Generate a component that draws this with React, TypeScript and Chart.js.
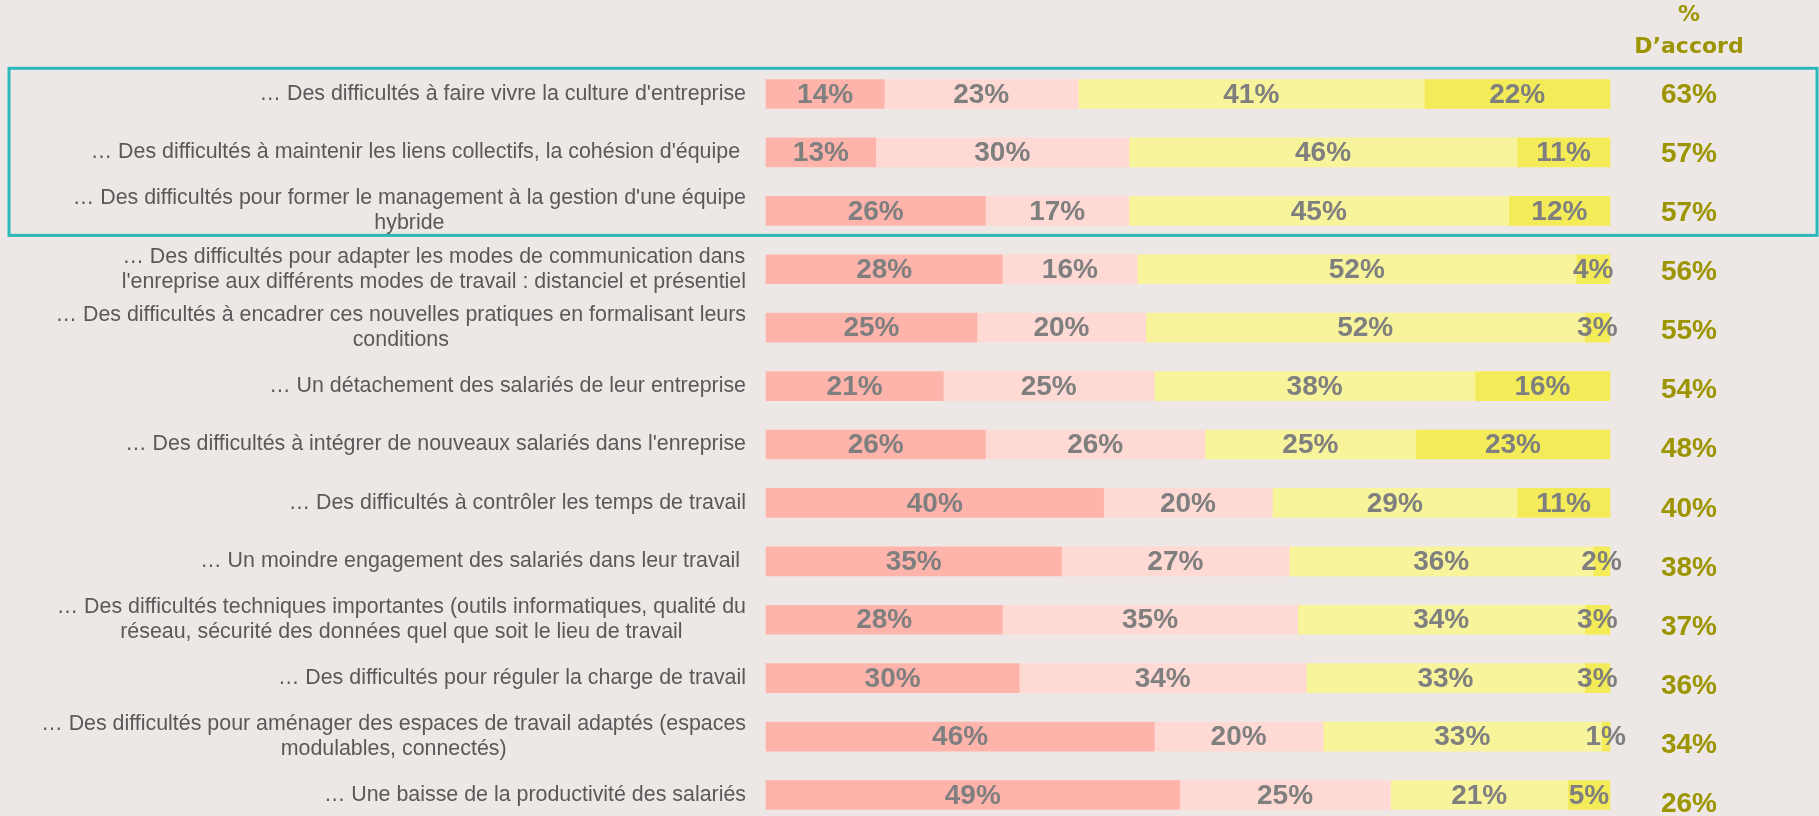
import React, { useEffect, useRef } from "react";
import { Chart, registerables } from "chart.js";

Chart.register(...registerables);

const categories: (string | string[])[] = [
  "… Des difficultés à faire vivre la culture d'entreprise",
  "… Des difficultés à maintenir les liens collectifs, la cohésion d'équipe ",
  ["… Des difficultés pour former le management à la gestion d'une équipe", "hybride"],
  ["… Des difficultés pour adapter les modes de communication dans", "l'enreprise aux différents modes de travail : distanciel et présentiel"],
  ["… Des difficultés à encadrer ces nouvelles pratiques en formalisant leurs", "conditions"],
  "… Un détachement des salariés de leur entreprise",
  "… Des difficultés à intégrer de nouveaux salariés dans l'enreprise",
  "… Des difficultés à contrôler les temps de travail",
  "… Un moindre engagement des salariés dans leur travail ",
  ["… Des difficultés techniques importantes (outils informatiques, qualité du", "réseau, sécurité des données quel que soit le lieu de travail"],
  "… Des difficultés pour réguler la charge de travail",
  ["… Des difficultés pour aménager des espaces de travail adaptés (espaces", "modulables, connectés)"],
  "… Une baisse de la productivité des salariés",
];

const pasDuTout = [14, 13, 26, 28, 25, 21, 26, 40, 35, 28, 30, 46, 49];
const plutotPas = [23, 30, 17, 16, 20, 25, 26, 20, 27, 35, 34, 20, 25];
const plutot = [41, 46, 45, 52, 52, 38, 25, 29, 36, 34, 33, 33, 21];
const toutAFait = [22, 11, 12, 4, 3, 16, 23, 11, 2, 3, 3, 1, 5];
const accord = [63, 57, 57, 56, 55, 54, 48, 40, 38, 37, 36, 34, 26];

const headerLines = ["%", "D\u2019accord"];

const BG = "#EDE8E5";
const LABEL_FONT = "Liberation Sans, Arial, sans-serif";

export default function App() {
  const ref = useRef<HTMLCanvasElement | null>(null);

  useEffect(() => {
    document.body.style.margin = "0";
    document.body.style.background = BG;
    const canvas = ref.current;
    if (!canvas) return;

    const labelsPlugin = {
      id: "customLabels",
      afterDatasetsDraw(chart: any) {
        const ctx = chart.ctx;
        const y = chart.scales.y;
        const area = chart.chartArea;
        ctx.save();

        // teal highlight box around first three rows
        const top = y.getPixelForValue(-0.44);
        const bottom = y.getPixelForValue(2.42);
        ctx.strokeStyle = "#2DB7B9";
        ctx.lineWidth = 3;
        ctx.strokeRect(9, top, 1817 - 9, bottom - top);

        // category labels: block right-aligned, lines centered
        ctx.font = `21.4px ${LABEL_FONT}`;
        ctx.fillStyle = "#595959";
        ctx.textBaseline = "middle";
        ctx.textAlign = "center";
        const right = area.left - 20;
        const lineH = 25;
        categories.forEach((lab, i) => {
          const lines = Array.isArray(lab) ? lab : [lab];
          const w = Math.max(...lines.map((l) => ctx.measureText(l).width));
          const cx = right - w / 2;
          const cy = y.getPixelForValue(i);
          lines.forEach((l, k) => {
            ctx.fillText(l, cx, cy + (k - (lines.length - 1) / 2) * lineH);
          });
        });

        // values in segments
        ctx.font = `bold 28px ${LABEL_FONT}`;
        ctx.fillStyle = "#7F7F7F";
        chart.data.datasets.forEach((ds: any, di: number) => {
          const meta = chart.getDatasetMeta(di);
          meta.data.forEach((bar: any, i: number) => {
            const cx = (bar.x + bar.base) / 2;
            ctx.fillText(ds.data[i] + "%", cx, bar.y + 1);
          });
        });

        // % d'accord column
        const colX = area.right + 79;
        ctx.fillStyle = "#9C9400";
        ctx.font = `bold 28px ${LABEL_FONT}`;
        accord.forEach((v, i) => {
          ctx.fillText(v + "%", colX, y.getPixelForValue(i) + 1 + i * 0.7);
        });

        ctx.font = `bold 22px "DejaVu Sans", sans-serif`;
        headerLines.forEach((t, k) => {
          ctx.fillText(t, colX, 15 + k * 32);
        });
        ctx.restore();
      },
    };

    const chart = new Chart(canvas, {
      type: "bar",
      data: {
        labels: categories.map((c) => (Array.isArray(c) ? c.join(" ") : c)),
        datasets: [
          { label: "Pas du tout d'accord", data: pasDuTout, backgroundColor: "#FFB4AB" },
          { label: "Plutôt pas d'accord", data: plutotPas, backgroundColor: "#FFDAD5" },
          { label: "Plutôt d'accord", data: plutot, backgroundColor: "#F8F49C" },
          { label: "Tout à fait d'accord", data: toutAFait, backgroundColor: "#F3EB58" },
        ],
      },
      options: {
        indexAxis: "y",
        animation: false,
        responsive: true,
        maintainAspectRatio: false,
        layout: { padding: { left: 766, right: 209, top: 94, bottom: 21 } },
        datasets: { bar: { barThickness: 29, borderWidth: 0, clip: false } as any },
        plugins: { legend: { display: false }, tooltip: { enabled: false } },
        scales: {
          x: { stacked: true, min: 0, max: 100, display: false },
          y: { stacked: true, display: false, offset: false },
        },
      },
      plugins: [labelsPlugin],
    });
    return () => chart.destroy();
  }, []);

  return (
    <div style={{ position: "relative", width: 1819, height: 816, background: BG }}>
      <canvas ref={ref} />
    </div>
  );
}
